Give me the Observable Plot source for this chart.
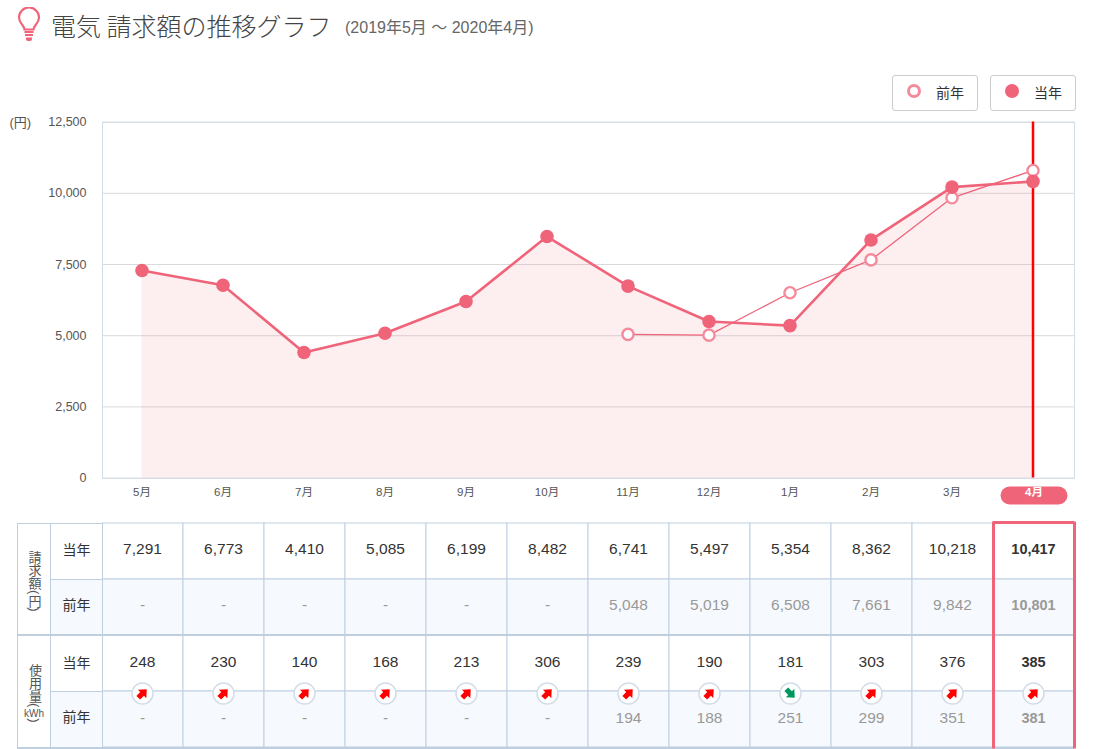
<!DOCTYPE html>
<html lang="ja">
<head>
<meta charset="utf-8">
<script src="https://cdn.jsdelivr.net/npm/d3@7"></script>
<script src="https://cdn.jsdelivr.net/npm/@observablehq/plot@0.6"></script>
<style>
  html,body{margin:0;padding:0;background:#fff;width:1098px;height:749px;overflow:hidden;font-family:"Liberation Sans","Noto Sans CJK JP",sans-serif;color:#333}
  .abs{position:absolute}
  svg{display:block}
  #title{left:51px;top:8px;font-size:25px;line-height:34px;font-weight:300;color:#444;white-space:nowrap;font-family:"Noto Sans CJK JP",sans-serif}
  #sub{left:345px;top:17px;font-size:16px;line-height:22px;color:#666;white-space:nowrap}
  .leg{top:75px;width:84px;height:34px;border:1px solid #ccc;border-radius:3px;background:#fff;font-size:14px;line-height:34px;color:#333}
  .leg i{position:absolute;left:14px;top:8px;width:14px;height:14px;border-radius:50%;box-sizing:border-box}
  .leg span{position:absolute;left:43px;top:0}
  .hd{box-sizing:border-box;border:1px solid #bfcfe0;display:flex;align-items:center;justify-content:center;background:#fff;font-size:14px;color:#333;padding-bottom:3px;margin-bottom:-1px}
  .vert{writing-mode:vertical-rl;color:#555;font-size:13px;line-height:1;padding-top:7px}
  .alt{background:#f6f9fd;padding-bottom:7px}
  .unit{writing-mode:horizontal-tb;display:inline-block;font-size:10px;line-height:11px}
  .h2{margin-left:-1px;width:53px}
</style>
</head>
<body>
<svg class="abs" style="left:17px;top:7px" width="24" height="34" viewBox="0 0 24 34" fill="none">
  <path d="M7.500 22.500c0-4-5.500-6-5.500-12a10 10 0 0 1 20 0c0 6-5.500 8-5.500 12z" stroke="#f0647a" stroke-width="2.200"/>
  <path d="M7.500 25h9M8 28h8" stroke="#f0647a" stroke-width="2.200"/>
  <path d="M9 30.500h6v1.500a2 2 0 0 1-2 2h-2a2 2 0 0 1-2-2z" fill="#f0647a"/>
</svg>
<div id="title" class="abs">電気 請求額の推移グラフ</div>
<div id="sub" class="abs">(2019年5月 ～ 2020年4月)</div>
<div class="abs leg" style="left:892px"><i style="border:3px solid #f48b9c;background:#fff"></i><span>前年</span></div>
<div class="abs leg" style="left:990px"><i style="background:#f0647a"></i><span>当年</span></div>
<div id="chart" class="abs" style="left:0;top:100px"></div>
<div id="table" class="abs" style="left:0;top:518px"></div>
<div class="abs" style="left:17px;top:523px;width:85px;height:224px;display:grid;grid-template-columns:34px 52px;grid-template-rows:56px 55px 57px 56px;">
  <div class="hd" style="grid-row:1/3"><span class="vert">請求額(円)</span></div>
  <div class="hd h2" style="padding-bottom:5px">当年</div>
  <div class="hd alt h2">前年</div>
  <div class="hd" style="grid-row:3/5;border-top-width:2px;border-bottom-width:2px;margin-bottom:-2px"><span class="vert">使用量(<span class="unit">kWh</span>)</span></div>
  <div class="hd h2" style="border-top-width:2px;padding-bottom:4px">当年</div>
  <div class="hd alt h2" style="border-bottom-width:2px;margin-bottom:-2px">前年</div>
</div>
<script>
const months = ["5月","6月","7月","8月","9月","10月","11月","12月","1月","2月","3月","4月"];
const billCurrent = [7291,6773,4410,5085,6199,8482,6741,5497,5354,8362,10218,10417];
const billPrevious = [null,null,null,null,null,null,5048,5019,6508,7661,9842,10801];
const usageCurrent = [248,230,140,168,213,306,239,190,181,303,376,385];
const usagePrevious = [null,null,null,null,null,null,194,188,251,299,351,381];
const yTicks = [0,2500,5000,7500,10000,12500];
const rows = ["請求額当年","請求額前年","使用量当年","使用量前年"];

const PINK = "#f0647a", PINK2 = "#f48b9c", LINE = "#bfcfe0";
const FONT = '"Liberation Sans","Noto Sans CJK JP",sans-serif';
const last = months[months.length - 1];
const bill = months.map((m, i) => ({m, cur: billCurrent[i], prev: billPrevious[i]}));
const billPrev = bill.filter(d => d.prev != null);

const pill = {draw(c) {
  const w = 33.5, h = 9;
  c.moveTo(-w + h, -h);
  c.lineTo(w - h, -h);
  c.arc(w - h, 0, h, -Math.PI / 2, Math.PI / 2);
  c.lineTo(-w + h, h);
  c.arc(-w + h, 0, h, Math.PI / 2, 3 * Math.PI / 2);
  c.closePath();
}};

document.getElementById("chart").append(Plot.plot({
  width: 1098, height: 415,
  marginTop: 22, marginBottom: 37, marginLeft: 102, marginRight: 24,
  style: {fontFamily: FONT, background: "transparent", overflow: "visible"},
  x: {type: "band", domain: months, range: [101, 1073], padding: 0, axis: null},
  y: {domain: [0, 12500], range: [377.6, 21.6], axis: null},
  marks: [
    Plot.ruleY(yTicks, {stroke: "#d9dade"}),
    Plot.frame({stroke: "#d3dde8"}),
    Plot.areaY(bill, {x: "m", y: "cur", fill: PINK, fillOpacity: 0.11, curve: "linear"}),
    Plot.ruleX([last], {x: d => d, y1: 0, y2: 12500, stroke: "#f00", strokeWidth: 2.5}),
    Plot.axisY({ticks: yTicks, tickSize: 0, tickPadding: 16, tickFormat: d3.format(","), label: null, fontSize: 12.500, fill: "#555", marginLeft: 102}),
    Plot.text(["(円)"], {text: d => d, frameAnchor: "top-left", dx: -93, dy: -5, fontSize: 13, fill: "#555"}),
    Plot.line(billPrev, {x: "m", y: "prev", stroke: PINK, strokeWidth: 1.3}),
    Plot.line(bill, {x: "m", y: "cur", stroke: PINK, strokeWidth: 2.6}),
    Plot.dot(billPrev, {x: "m", y: "prev", r: 5.6, fill: "#fff", stroke: PINK2, strokeWidth: 2.4}),
    Plot.dot(bill, {x: "m", y: "cur", r: 6.8, fill: PINK, stroke: PINK, strokeWidth: 0}),
    Plot.dot([last], {x: d => d, frameAnchor: "bottom", dx: 1, dy: 17, symbol: pill, fill: PINK, stroke: "none", r: 5}),
    Plot.text(months.filter(d => d !== last), {x: d => d, text: d => d, frameAnchor: "bottom", dy: 17, fontSize: 11.5, fill: "#555"}),
    Plot.text([last], {x: d => d, text: d => d, frameAnchor: "bottom", dx: 1, dy: 17, fontSize: 11.5, fontWeight: "bold", fill: "#fff"})
  ]
}));

const rowShift = [-2.5, -2.5, -1, -1.5];
const longRows = months.flatMap((m, i) => [
  {m, row: rows[0], v: billCurrent[i], prior: false, fmt: d3.format(",")},
  {m, row: rows[1], v: billPrevious[i], prior: true, fmt: d3.format(",")},
  {m, row: rows[2], v: usageCurrent[i], prior: false, fmt: String},
  {m, row: rows[3], v: usagePrevious[i], prior: true, fmt: String}
]).map(d => ({...d, label: d.v == null ? "-" : d.fmt(d.v), last: d.m === last}));
const trend = months.map((m, i) => ({m, row: rows[3], up: usagePrevious[i] == null || usageCurrent[i] >= usagePrevious[i]}));

const fatArrow = {draw(c, l) {
  const h = l * 0.55, w = l * 0.5, s = l * 0.22;
  c.moveTo(0, -l);
  c.lineTo(w, -l + h);
  c.lineTo(s, -l + h);
  c.lineTo(s, 0);
  c.lineTo(-s, 0);
  c.lineTo(-s, -l + h);
  c.lineTo(-w, -l + h);
  c.closePath();
}};

// one text mark per row so that each row keeps its own baseline
const rowText = (r, i, isLast, extra) => Plot.text(
  longRows.filter(d => d.row === r && d.last === isLast),
  {x: "m", y: "row", text: "label", dx: -0.5, dy: rowShift[i], fontSize: 15.5, fill: t => t.prior ? "#999" : "#333", ...extra}
);

document.getElementById("table").append(Plot.plot({
  width: 1098, height: 231,
  marginTop: 5, marginBottom: 2, marginLeft: 102, marginRight: 24,
  style: {fontFamily: FONT, background: "transparent", overflow: "visible"},
  x: {type: "band", domain: months, range: [102, 1074], padding: 0, axis: null},
  y: {type: "band", domain: rows, padding: 0, axis: null},
  marks: [
    Plot.cell(longRows, {x: "m", y: "row", fill: d => d.prior ? "#f6f9fd" : "#fff", stroke: LINE, strokeWidth: 1}),
    Plot.tickY(months, {x: d => d, y: () => rows[2], dy: -28.5, stroke: LINE, strokeWidth: 2}),
    Plot.tickY(months, {x: d => d, y: () => rows[3], dy: 28.5, stroke: LINE, strokeWidth: 2}),
    ...rows.map((r, i) => rowText(r, i, false, {})),
    ...rows.map((r, i) => rowText(r, i, true, {fontWeight: "bold", fontSize: 14.5})),
    Plot.dot(trend, {x: "m", y: "row", dx: -0.5, dy: -26, r: 10.5, fill: "#fff", stroke: "#d3dde8", strokeWidth: 1.5}),
    Plot.vector(trend, {x: "m", y: "row", dx: -0.5, dy: -26, anchor: "middle", shape: fatArrow, length: 12, rotate: d => d.up ? 45 : 135, fill: d => d.up ? "#f00" : "#00965e", stroke: "none"}),
    Plot.ruleX([last], {x: d => d, dx: -40.5, stroke: PINK, strokeWidth: 3, strokeLinecap: "square"}),
    Plot.ruleX([last], {x: d => d, dx: 40.5, stroke: PINK, strokeWidth: 3, strokeLinecap: "square"}),
    Plot.tickY([last], {x: d => d, y: () => rows[0], dy: -29, stroke: PINK, strokeWidth: 3})
  ]
}));
</script>
</body>
</html>
